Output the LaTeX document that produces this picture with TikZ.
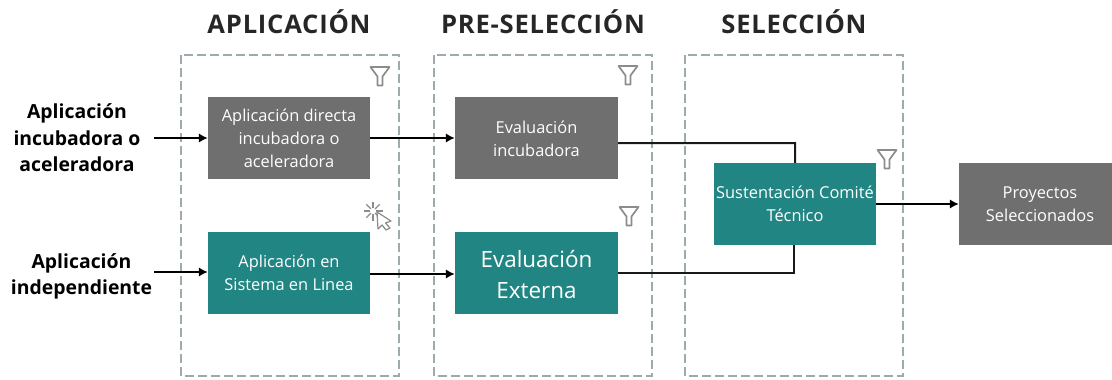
\documentclass[tikz,border=0pt]{standalone}
\usepackage{fontspec}
\setmainfont{Open Sans}
\usetikzlibrary{arrows.meta}
\definecolor{boxgray}{HTML}{6F6F6F}
\definecolor{boxteal}{HTML}{218683}
\definecolor{dashgray}{HTML}{9EABAE}
\definecolor{icongray}{HTML}{8C8C8C}
\tikzset{
  x=1pt,y=-1pt,
  stage/.style={draw=dashgray,line width=1.8pt,dash pattern=on 9pt off 4pt},
  stagehead/.style={font=\fontsize{25.6}{30}\selectfont\bfseries\addfontfeature{LetterSpace=3},text=black!85,anchor=center},
  grayblock/.style={fill=boxgray,text=white,minimum width=162pt,minimum height=82pt,align=center,inner sep=0pt,font=\fontsize{16.4}{23}\selectfont},
  tealblock/.style={fill=boxteal,text=white,minimum width=162pt,minimum height=82pt,align=center,inner sep=0pt,font=\fontsize{16.4}{23}\selectfont},
  sidelabel/.style={text=black,align=center,font=\fontsize{19.4}{26.5}\selectfont\bfseries},
  flow/.style={draw=black,line width=2.2pt,-{Latex[length=9pt,width=9.5pt]}},
  plainflow/.style={draw=black!90,line width=2pt},
  funnelicon/.pic={\draw[icongray,line width=1.7pt,line join=round,fill=white] (-9.5,-9)--(9.5,-9)--(2.5,0.5)--(2.5,9.5)--(-2.5,9.5)--(-2.5,0.5)--cycle;}
}
\begin{document}
\begin{tikzpicture}
\useasboundingbox (0,0) rectangle (1112,380);
% stages
\draw[stage] (181,55) rectangle (399,376);
\draw[stage] (434,55) rectangle (652,376);
\draw[stage] (685,55) rectangle (903,376);
\node[stagehead] (h1) at (289,22) {APLICACIÓN};
\node[stagehead] (h2) at (543,22) {PRE-SELECCIÓN};
\node[stagehead] (h3) at (794,22) {SELECCIÓN};
% blocks
\node[grayblock] (d1) at (289,138) {Aplicación directa\\incubadora o\\aceleradora};
\node[tealblock] (d2) at (289,273) {Aplicación en\\Sistema en Linea};
\node[grayblock,minimum width=163pt] (e1) at (536.5,138) {\rule{0pt}{14pt}Evaluación\\incubadora};
\node[tealblock,minimum width=163pt,font=\fontsize{22.4}{31}\selectfont] (e2) at (536.5,273) {\rule{0pt}{20pt}Evaluación\\Externa};
\node[tealblock] (s) at (795,204) {Sustentación Comité\\Técnico};
\node[grayblock,minimum width=153pt] (p) at (1035.5,204) {\hspace*{9pt}Proyectos\\\hspace*{9pt}Seleccionados};
% side labels
\node[sidelabel] (a1) at (77,138) {Aplicación\\incubadora o\\aceleradora};
\node[sidelabel,text depth=0pt] (a2) at (81.5,274) {Aplicación\\independiente};
\coordinate (a1e) at (154,138);
\coordinate (a2e) at (154,272);
% connectors
\draw[flow] (a1e) -- (d1.west|-a1e);
\draw[flow] (a2e) -- (d2.west|-a2e);
\draw[flow] (d1.east) -- (e1.west);
\draw[flow] ([yshift=-1pt]d2.east) -- ([yshift=-1pt]e2.west);
\draw[plainflow] ([yshift=-5pt]e1.east) -- ++(177,0) -- (s.north-|795,0);
\draw[plainflow] (e2.east) -- (794,273) -- (s.south-|794,0);
\draw[flow] (s.east) -- (p.west);
% icons
\pic at (380,76) {funnelicon};
\pic at (628,75) {funnelicon};
\pic at (629,216) {funnelicon};
\pic at (887,159) {funnelicon};
% click cursor
\foreach \a in {0,45,...,315}
  \draw[icongray,line width=1.3pt] (373,211) ++(\a:3) -- ++(\a:6.5);
\draw[icongray,line width=1.2pt,line join=round,fill=white] (377,212)--(391,221)--(385.5,223)--(390,228)--(386,230)--(382,225)--(378,229)--cycle;
\end{tikzpicture}
\end{document}
